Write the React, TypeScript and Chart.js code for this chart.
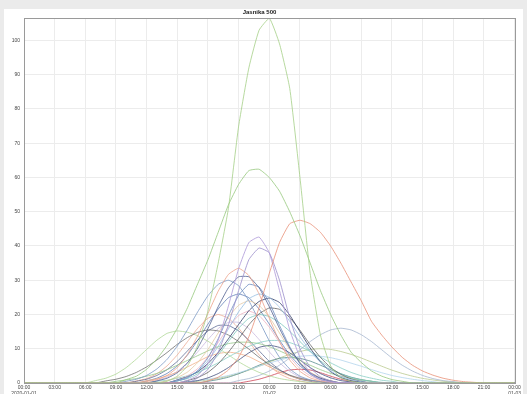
import React, { useEffect, useRef } from "react";
import { Chart, registerables } from "chart.js";

Chart.register(...registerables);

const TITLE = "Jasnika 500";
const HOUR_COUNT = 49; // 2020-01-01 00:00 .. 2020-01-03 00:00, hourly
const xTickStep = 3;
const yTickStep = 10;
const yMax = 106.5;
const dayLabels = ["2020-01-01", "01-02", "01-03"];

// series values, each starting at the given hour (zero elsewhere)
const s01 = [0.5, 2, 5, 11, 21, 35, 51, 75, 92, 103, 106.5, 99, 86, 60, 32, 14, 5, 1.5, 0.5];
const s02 = [1, 2, 4, 7, 11, 16, 22, 29, 36, 44, 52, 58, 62, 62.4, 60, 56, 50, 43, 35, 27, 20, 14, 9, 6, 3.5, 2, 1, 0.5];
const s03 = [0.6, 1.7, 3.8, 7.5, 13.5, 22, 32, 41, 46.5, 47.5, 46.5, 44, 40, 35, 29.5, 24, 18, 14, 10.5, 7.5, 5.2, 3.5, 2.3, 1.4, 0.8, 0.4, 0.2];
const s04 = [0.8, 2.2, 5.8, 12.5, 22.5, 33.4, 41, 42.6, 38, 27, 15.5, 7.5, 3, 1, 0.3];
const s05 = [1.5, 4, 9, 17, 27, 36, 39.4, 38, 30, 19, 10, 4.5, 1.8, 0.6];
const s06 = [0.4, 1, 2.2, 4.5, 8.4, 13.8, 20.3, 26.8, 31.7, 33.5, 31.4, 26, 18.9, 12.1, 6.7, 3.4, 1.5, 0.6, 0.2];
const s07 = [0.6, 1.4, 3, 5.9, 10.2, 15.9, 22.3, 27.8, 31, 31, 27.8, 22.3, 15.9, 10.2, 5.9, 3, 1.4, 0.6];
const s08 = [0.5, 1.1, 2.2, 4.1, 6.9, 10.8, 15.6, 20.8, 25.5, 28.8, 30, 28.4, 24, 18.2, 12.3, 7.5, 4.1, 2, 0.9, 0.4];
const s09 = [0.6, 1.5, 3.6, 7.4, 12.9, 19.7, 25.6, 28.8, 28, 23.5, 16.8, 10.6, 5.6, 2.6, 1, 0.4];
const s10 = [0.8, 1.7, 3.5, 6.5, 10.7, 15.8, 20.8, 24.6, 26, 25, 22.1, 18, 13.5, 9.4, 6, 3.5, 1.9, 1, 0.4];
const s11 = [0.9, 1.8, 3.3, 5.7, 8.9, 12.9, 17.1, 21.1, 23.8, 24.8, 23.5, 19.8, 15, 10.2, 6.2, 3.3, 1.6, 0.7, 0.3];
const s12 = [0.7, 1.6, 3.2, 6, 9.8, 14.6, 19.2, 22.7, 24, 22.7, 19.2, 14.6, 9.8, 6, 3.2, 1.6, 0.7];
const s13 = [0.7, 1.6, 3.1, 5.6, 9, 12.9, 17, 20.2, 21.9, 21.5, 19.1, 15.4, 11.2, 7.5, 4.5, 2.5, 1.2, 0.5];
const s14 = [0.9, 2.1, 4.2, 7.6, 11.8, 16.3, 19.7, 21, 19.7, 16.3, 11.8, 7.6, 4.2, 2.1, 0.9, 0.4];
const s15 = [0.6, 1.3, 2.7, 5, 8.2, 12.1, 16, 18.9, 20, 19.4, 17.6, 15.1, 12.1, 9.2, 6.5, 4.3, 2.7, 1.6, 0.9, 0.5, 0.2];
const s16 = [0.6, 1.1, 1.9, 3.1, 4.7, 6.7, 8.9, 11.3, 13.3, 14.8, 15.5, 15.2, 14, 12.1, 9.9, 7.5, 5.4, 3.7, 2.3, 1.4, 0.8, 0.4];
const s17 = [0.7, 1.4, 2.6, 4.5, 7, 9.8, 12.5, 14.5, 15.2, 14.8, 13.8, 12.2, 10.2, 8.2, 6.2, 4.5, 3.1, 2.1, 1.3, 0.8, 0.4, 0.2];
const s18 = [0.7, 1.3, 2.2, 3.5, 5.2, 7.3, 9.7, 12.1, 14.1, 15.5, 16, 15.5, 14.1, 12.1, 9.7, 7.3, 5.2, 3.5, 2.2, 1.3, 0.7, 0.4];
const s19 = [0.5, 0.8, 1.4, 2.1, 3.1, 4.4, 5.9, 7.6, 9.2, 10.7, 11.8, 12.4, 12.4, 11.8, 10.7, 9.2, 7.6, 5.9, 4.4, 3.1, 2.1, 1.4, 0.8, 0.5];
const s20 = [0.5, 0.9, 1.3, 2, 2.8, 3.9, 5.2, 6.6, 8, 9.4, 10.6, 11.5, 11.9, 11.9, 11.5, 10.6, 9.4, 8, 6.6, 5.2, 3.9, 2.8, 2, 1.3, 0.9, 0.5];
const s21 = [0.3, 0.7, 1.5, 2.75, 4.5, 6.7, 8.8, 10.4, 11, 10.4, 8.8, 6.7, 4.5, 2.75, 1.5, 0.7, 0.3];
const s22 = [0.7, 1.2, 2.1, 3.2, 4.7, 6.2, 7.7, 8.6, 9, 8.6, 7.7, 6.2, 4.7, 3.2, 2.1, 1.2, 0.7, 0.3];
const s23 = [0.4, 0.7, 1.1, 1.6, 2.2, 3, 3.9, 4.9, 5.8, 6.7, 7.4, 7.8, 8, 7.8, 7.4, 6.7, 5.8, 4.9, 3.9, 3, 2.2, 1.6, 1.1, 0.7, 0.4];
const s24 = [0.5, 1, 1.7, 2.7, 3.9, 5.2, 6.4, 7.2, 7.5, 7.2, 6.4, 5.2, 3.9, 2.7, 1.7, 1, 0.5];
const s25 = [0.8, 1.7, 3.4, 5.9, 9.1, 12.7, 15.9, 17.7, 17.7, 15.9, 12.7, 9.1, 5.9, 3.4, 1.7, 0.8];
const s26 = [0.5, 0.9, 1.35, 2, 2.8, 3.75, 4.9, 6.1, 7.3, 8.35, 9.2, 9.8, 10, 9.8, 9.2, 8.35, 7.3, 6.1, 4.9, 3.75, 2.8, 2, 1.35, 0.9, 0.5, 0.3];
const s27 = [0.5, 1.1, 2.2, 3.9, 6.3, 9.4, 12.5, 15.2, 16.8, 16.8, 15.2, 12.5, 9.4, 6.3, 3.9, 2.2, 1.1, 0.5];
const s28 = [0.6, 1.3, 2.7, 5, 8.2, 12.1, 16, 18.9, 20, 18.9, 16, 12.1, 8.2, 5, 2.7, 1.3, 0.6];
const s29 = [0.6, 1.4, 2.8, 5, 8.2, 12.5, 17.2, 21.6, 24.9, 26, 24.9, 21.6, 17.2, 12.5, 8.2, 5, 2.8, 1.4, 0.6];
const s30 = [0.5, 1.1, 2, 3, 3.8, 4, 3.8, 3, 2, 1.1, 0.5];

const seriesValues = [s01, s02, s03, s04, s05, s06, s07, s08, s09, s10, s11, s12, s13, s14, s15, s16, s17, s18, s19, s20, s21, s22, s23, s24, s25, s26, s27, s28, s29, s30];
const seriesStartHour = [14, 10, 18, 16, 17, 12, 13, 10, 15, 15, 15, 14, 16, 15, 15, 8, 7, 21, 13, 9, 16, 12, 16, 18, 13, 17, 11, 11, 12, 22];

const seriesColors = [
  "rgba(165,208,135,0.8)", "rgba(150,200,125,0.8)", "rgba(232,145,120,0.8)", "rgba(178,158,218,0.85)",
  "rgba(160,148,206,0.85)", "rgba(236,160,136,0.8)", "rgba(70,86,138,0.75)", "rgba(122,152,196,0.8)",
  "rgba(104,136,190,0.8)", "rgba(150,190,226,0.8)", "rgba(44,56,100,0.8)", "rgba(228,200,160,0.8)",
  "rgba(88,88,88,0.75)", "rgba(238,176,192,0.8)", "rgba(124,198,190,0.8)", "rgba(104,104,104,0.75)",
  "rgba(178,216,152,0.8)", "rgba(166,182,208,0.8)", "rgba(138,206,198,0.8)", "rgba(150,200,138,0.8)",
  "rgba(58,70,118,0.75)", "rgba(242,176,138,0.8)", "rgba(178,212,236,0.8)", "rgba(76,132,134,0.75)",
  "rgba(200,184,222,0.8)", "rgba(186,202,144,0.8)", "rgba(84,98,142,0.75)", "rgba(236,170,146,0.8)",
  "rgba(86,118,178,0.75)", "rgba(208,70,88,0.8)",
];

function placeSeries(start: number, vals: number[]) {
  const out: { x: number; y: number }[] = [];
  for (let h = 0; h < HOUR_COUNT; h++) {
    const k = h - start;
    out.push({ x: h, y: k >= 0 && k < vals.length ? vals[k] : 0 });
  }
  return out;
}

function hourLabel(h: number): string | string[] {
  const hh = String(h % 24).padStart(2, "0") + ":00";
  if (h % 24 === 0) return [hh, dayLabels[h / 24]];
  return hh;
}

const framePlugin = {
  id: "frame",
  afterDraw(chart: any) {
    const { ctx, chartArea } = chart;
    ctx.save();
    ctx.strokeStyle = "#9a9a9a";
    ctx.lineWidth = 1;
    ctx.strokeRect(Math.round(chartArea.left) + 0.5, Math.round(chartArea.top) + 0.5,
      Math.round(chartArea.right - chartArea.left), Math.round(chartArea.bottom - chartArea.top));
    ctx.restore();
  },
};

export default function App() {
  const ref = useRef<HTMLCanvasElement | null>(null);

  useEffect(() => {
    document.body.style.margin = "0";
    document.body.style.background = "#ebebeb";
    const canvas = ref.current;
    if (!canvas) return;
    const font = "'Liberation Sans', Arial, sans-serif";
    const chart = new Chart(canvas, {
      type: "line",
      data: {
        datasets: seriesValues.map((vals, i) => ({
          data: placeSeries(seriesStartHour[i], vals),
          borderColor: seriesColors[i],
          backgroundColor: seriesColors[i],
          borderWidth: 1,
          pointRadius: 0,
          tension: 0.15,
          fill: false,
        })),
      },
      options: {
        animation: false,
        responsive: false,
        devicePixelRatio: 1,
        layout: { padding: { left: 0, right: 8, top: 0, bottom: 0 } },
        plugins: {
          legend: { display: false },
          tooltip: { enabled: false },
          title: {
            display: true,
            text: TITLE,
            color: "#222",
            font: { size: 6, family: font },
            padding: { top: 0, bottom: 2 },
          },
        },
        scales: {
          x: {
            type: "linear",
            min: 0,
            max: HOUR_COUNT - 1,
            afterFit: (s: any) => { s.height = 11; },
            grid: { color: "#ececec", drawTicks: false },
            border: { display: true, color: "#999" },
            ticks: {
              stepSize: xTickStep,
              autoSkip: false,
              maxRotation: 0,
              padding: 2,
              color: "#444",
              font: { size: 5, family: font, lineHeight: 1.1 },
              callback: (v: any) => hourLabel(Number(v)),
            },
          },
          y: {
            type: "linear",
            min: 0,
            max: yMax,
            afterFit: (s: any) => { s.width = 20; },
            afterBuildTicks: (s: any) => {
              s.ticks = s.ticks.filter((t: any) => t.value % yTickStep === 0);
            },
            grid: { color: "#ececec", drawTicks: false },
            border: { display: true, color: "#777" },
            ticks: {
              stepSize: yTickStep,
              padding: 4,
              color: "#444",
              font: { size: 5, family: font },
            },
          },
        },
      },
      plugins: [framePlugin],
    } as any);
    return () => chart.destroy();
  }, []);

  return (
    <div style={{ position: "absolute", left: 4, top: 9, width: 519, height: 385, background: "#fff" }}>
      <canvas ref={ref} width={519} height={385} style={{ display: "block" }} />
    </div>
  );
}
